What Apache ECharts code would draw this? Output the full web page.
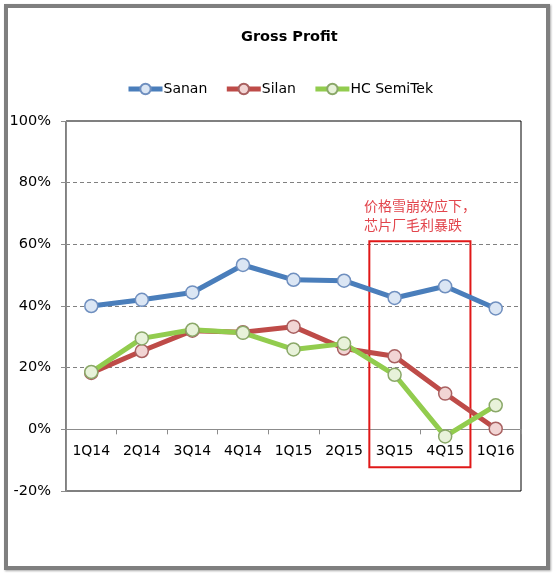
<!DOCTYPE html>
<html>
<head>
<meta charset="utf-8">
<script src="https://cdn.jsdelivr.net/npm/echarts@6/dist/echarts.min.js"></script>
<style>
html,body{margin:0;padding:0;background:#fff;}
#wrap{position:relative;width:553px;height:574px;}
#chart{position:absolute;left:0;top:0;width:553px;height:574px;}
#frame{position:absolute;left:4px;top:4px;width:538px;height:558px;border:4px solid #7f7f7f;box-shadow:1px 1px 2px #aaa;pointer-events:none;}
</style>
</head>
<body>
<div id="wrap"><div id="chart"></div><div id="frame"></div></div>
<script>
var categories = ['1Q14','2Q14','3Q14','4Q14','1Q15','2Q15','3Q15','4Q15','1Q16'];
var sanan = [40, 42, 44.4, 53.3, 48.5, 48.2, 42.6, 46.4, 39.2];
var silan = [18.3, 25.4, 32, 31.5, 33.3, 26.2, 23.7, 11.6, 0.2];
var hcSemitek = [18.6, 29.5, 32.3, 31.3, 25.9, 27.8, 17.7, -2.3, 7.8];
var yTicks = [-20, 0, 20, 40, 60, 80, 100];
var seriesNames = ['Sanan', 'Silan', 'HC SemiTek'];
var annotationText = '价格雪崩效应下，\n芯片厂毛利暴跌　';
// highlight box: category band index range and value range
var boxX = [6, 8];
var boxY = [61, -12.3];

var font = '"DejaVu Sans", Verdana, sans-serif';
function mkSeries(name, data, line, fill, border) {
  return {
    name: name, type: 'line', data: data,
    symbol: 'circle', symbolSize: 13,
    lineStyle: {color: line, width: 5},
    itemStyle: {color: fill, borderColor: border, borderWidth: 1.5},
    emphasis: {disabled: true},
    z: 3
  };
}
var gridTop = 121, gridBottom = 83, chartH = 574;
var plotH = chartH - gridTop - gridBottom;
var zeroOffset = -plotH * (0 - yTicks[0]) / (yTicks[yTicks.length-1] - yTicks[0]);

var chart = echarts.init(document.getElementById('chart'));
chart.setOption({
  animation: false,
  backgroundColor: '#fff',
  title: {
    text: 'Gross Profit', left: 236, top: 25,
    textStyle: {fontFamily: font, fontSize: 14.5, fontWeight: 'bold', color: '#000'}
  },
  legend: {
    data: seriesNames, left: 121, top: 77,
    itemWidth: 34, itemHeight: 13, itemGap: 17,
    lineStyle: {width: 5},
    textStyle: {fontFamily: font, fontSize: 14, color: '#000', padding: [0,0,0,-4]}
  },
  grid: {
    left: 66, right: 32, top: gridTop, bottom: gridBottom,
    show: true, borderColor: '#000', borderWidth: 1, backgroundColor: 'transparent'
  },
  xAxis: [{
    type: 'category', data: categories, boundaryGap: true,
    offset: zeroOffset,
    axisLine: {onZero: false, lineStyle: {color: '#8c8c8c', width: 1}},
    axisTick: {show: true, length: 5, lineStyle: {color: '#8c8c8c'}},
    axisLabel: {fontFamily: font, fontSize: 14, color: '#000', margin: 15},
    splitLine: {show: false}
  }, {
    type: 'value', min: 0, max: categories.length, show: false
  }],
  yAxis: {
    type: 'value', min: yTicks[0], max: yTicks[yTicks.length-1], interval: 20,
    axisLine: {show: true, lineStyle: {color: '#8c8c8c'}},
    axisTick: {show: true, length: 5, lineStyle: {color: '#8c8c8c'}},
    axisLabel: {fontFamily: font, fontSize: 14.5, color: '#000', margin: 15, formatter: '{value}%'},
    splitLine: {show: true, lineStyle: {color: '#808080', type: [4, 3], width: 1}}
  },
  series: [
    mkSeries(seriesNames[0], sanan, '#4a7ebb', '#dbe6f4', '#6f8fbf'),
    mkSeries(seriesNames[1], silan, '#be4b48', '#f2d5d4', '#a86060'),
    mkSeries(seriesNames[2], hcSemitek, '#92cc4e', '#e8f2da', '#8aa868'),
    {
      type: 'line', xAxisIndex: 1, data: [], silent: true,
      markArea: {
        silent: true,
        itemStyle: {color: 'rgba(0,0,0,0)', borderColor: '#e01818', borderWidth: 2},
        label: {
          show: true, position: 'top', distance: 6,
          formatter: annotationText,
          fontFamily: '"Noto Sans CJK SC", sans-serif', fontSize: 14, lineHeight: 19,
          color: '#e2454c', align: 'center'
        },
        data: [[{xAxis: boxX[0], yAxis: boxY[0]}, {xAxis: boxX[1], yAxis: boxY[1]}]]
      },
      z: 5
    }
  ]
});
</script>
</body>
</html>
